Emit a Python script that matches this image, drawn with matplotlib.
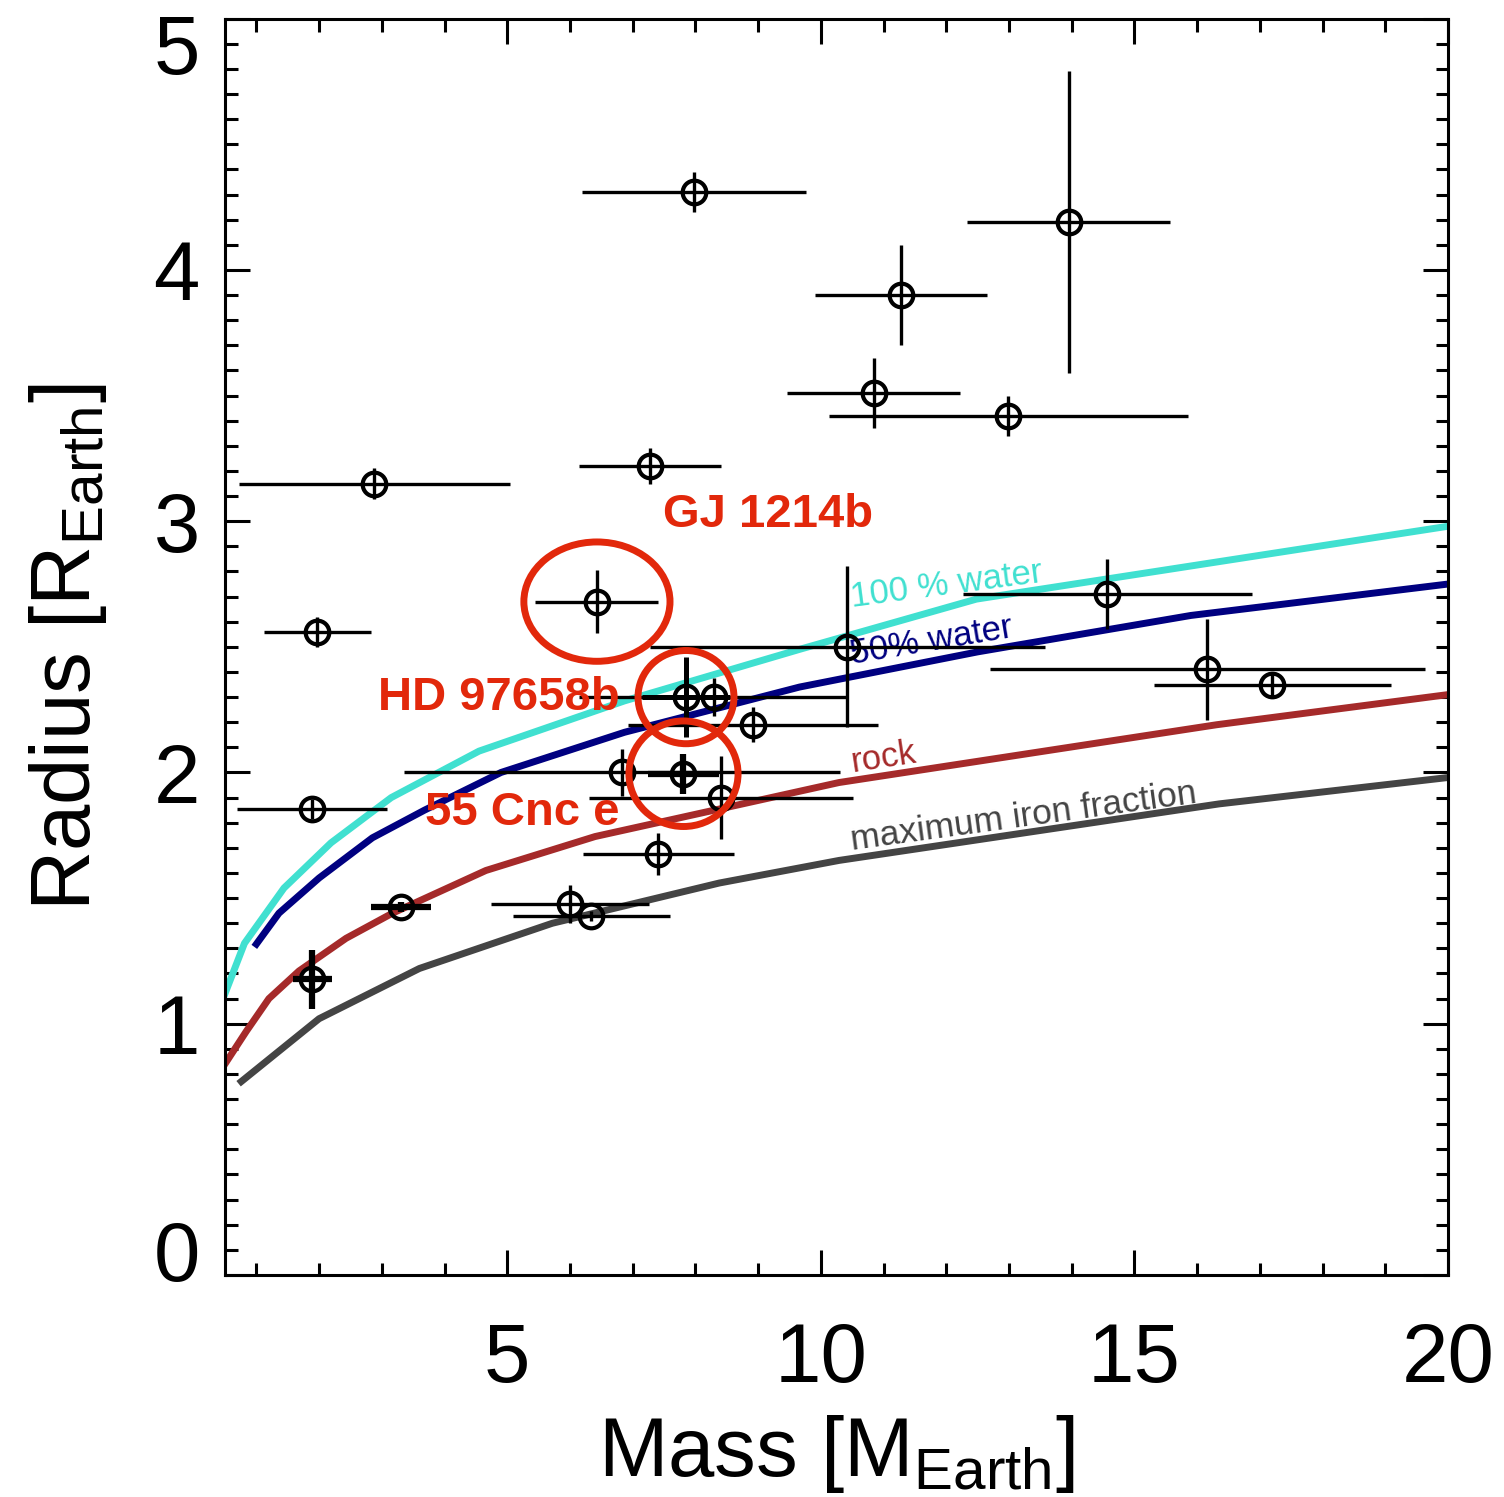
import matplotlib
matplotlib.use('Agg')
import matplotlib.pyplot as plt
from matplotlib.patches import Ellipse
from matplotlib.ticker import MultipleLocator
from matplotlib.transforms import ScaledTranslation

plt.rcParams['font.family'] = ['Liberation Sans', 'DejaVu Sans']
plt.rcParams['mathtext.fontset'] = 'custom'
plt.rcParams['mathtext.rm'] = 'Liberation Sans'
plt.rcParams['mathtext.it'] = 'Liberation Sans:italic'
plt.rcParams['mathtext.bf'] = 'Liberation Sans:bold'

# transiting planets with measured mass and radius (Earth units), 1-sigma errors
mass = [7.98, 13.95, 11.28, 10.84, 12.99, 7.28, 2.88, 1.97, 14.57, 10.42,
        8.29, 8.92, 6.83, 8.41, 7.41, 6.00, 6.34, 1.89, 16.16, 17.20]
radius = [4.31, 4.19, 3.90, 3.51, 3.42, 3.22, 3.15, 2.56, 2.71, 2.50,
          2.30, 2.19, 2.00, 1.90, 1.676, 1.476, 1.43, 1.856, 2.41, 2.35]
mass_err = [1.79, 1.62, 1.37, 1.38, 2.86, 1.13, 2.16, 0.85, 2.31, 3.15,
            2.15, 1.99, 3.47, 2.11, 1.21, 1.26, 1.25, 1.20, 3.47, 1.89]
radius_err = [0.08, 0.60, 0.20, 0.14, 0.08, 0.07, 0.06, 0.06, 0.14, 0.32,
              0.075, 0.07, 0.095, 0.165, 0.085, 0.075, 0.02, 0.04, 0.20, 0.05]

# small planets with tight constraints
bold_mass = [3.31, 1.89]
bold_radius = [1.465, 1.177]
bold_mass_err = [0.48, 0.31]
bold_radius_err = [0.02, 0.118]

# planets singled out in the text
named = ['GJ 1214b', 'HD 97658b', '55 Cnc e']
named_mass = [6.43, 7.85, 7.81]
named_radius = [2.68, 2.30, 1.995]
named_mass_err = [0.98, 0.70, 0.56]
named_radius_err = [0.125, 0.16, 0.08]

# mass-radius relations for fixed compositions
water100_mass = [0.5, 0.81, 1.44, 2.19, 3.15, 4.55, 6.87, 9.66, 12.48, 20.0]
water100_radius = [1.12, 1.32, 1.54, 1.72, 1.90, 2.085, 2.285, 2.49, 2.69, 2.98]
water50_mass = [1.0, 1.36, 2.0, 2.85, 3.68, 4.9, 6.87, 9.66, 12.5, 15.9, 20.0]
water50_radius = [1.317, 1.44, 1.58, 1.74, 1.85, 2.0, 2.16, 2.34, 2.48, 2.625, 2.75]
rock_mass = [0.5, 0.84, 1.2, 1.68, 2.43, 3.17, 4.66, 6.4, 10.29, 16.31, 20.0]
rock_radius = [0.84, 0.97, 1.10, 1.21, 1.34, 1.44, 1.61, 1.745, 1.96, 2.19, 2.31]
iron_mass = [0.76, 2.0, 3.6, 5.72, 8.38, 10.29, 16.35, 20.0]
iron_radius = [0.77, 1.02, 1.22, 1.40, 1.56, 1.65, 1.875, 1.98]

red = '#e2280b'

fig = plt.figure(figsize=(15.04, 14.97), dpi=100)
ax = fig.add_axes([0.1496, 0.1483, 0.8132, 0.8392])

ax.plot(water100_mass, water100_radius, color='#40e0d0', lw=5, zorder=2)
ax.plot(water50_mass, water50_radius, color='#000080', lw=5, zorder=2)
ax.plot(rock_mass, rock_radius, color='#a52a2a', lw=5, zorder=2)
ax.plot(iron_mass, iron_radius, color='#444444', lw=5, zorder=2)

ax.text(10.5, 2.66, '100 % water', color='#40e0d0', fontsize=25, rotation=7.5,
        rotation_mode='anchor', ha='left', va='baseline', zorder=2)
ax.text(10.5, 2.43, '50% water', color='#000080', fontsize=25, rotation=9.5,
        rotation_mode='anchor', ha='left', va='baseline', zorder=2)
ax.text(10.5, 2.0, 'rock', color='#a52a2a', fontsize=25, rotation=8.7,
        rotation_mode='anchor', ha='left', va='baseline', zorder=2)
ax.text(10.5, 1.69, 'maximum iron fraction', color='#444444', fontsize=25.5,
        rotation=7.8, rotation_mode='anchor', ha='left', va='baseline', zorder=2)

marker_style = dict(fmt='o', mfc='none', mec='k', ms=17, mew=3,
                    ecolor='k', capsize=0, zorder=3)
ax.errorbar(mass, radius, xerr=mass_err, yerr=radius_err, elinewidth=2.4,
            **marker_style)
ax.errorbar(bold_mass, bold_radius, xerr=bold_mass_err, yerr=bold_radius_err,
            elinewidth=4.5, **marker_style)
named_lw = [2.4, 3.6, 4.5]
for i in range(len(named)):
    ax.errorbar([named_mass[i]], [named_radius[i]], xerr=[named_mass_err[i]],
                yerr=[named_radius_err[i]], elinewidth=named_lw[i], **marker_style)

# red rings around the highlighted planets
ring_w = [2.33, 1.53, 1.74]
ring_h = [0.475, 0.371, 0.42]
for i in range(len(named)):
    ax.add_patch(Ellipse((named_mass[i], named_radius[i]), ring_w[i], ring_h[i],
                         fill=False, ec=red, lw=5, zorder=4))

ax.text(9.16, 3.025, named[0], color=red, fontsize=34, fontweight='bold',
        ha='center', va='center', zorder=4)
ax.text(6.79, 2.295, named[1], color=red, fontsize=34, fontweight='bold',
        ha='right', va='center', zorder=4)
ax.text(6.79, 1.84, named[2], color=red, fontsize=34, fontweight='bold',
        ha='right', va='center', zorder=4)

ax.set_xlim(0.5, 20)
ax.set_ylim(0, 5)
ax.set_xticks([5, 10, 15, 20], ['5', '10', '15', '20'])
ax.set_yticks([0, 1, 2, 3, 4, 5], ['0', '1', '2', '3', '4', '5'])
ax.xaxis.set_minor_locator(MultipleLocator(1))
ax.yaxis.set_minor_locator(MultipleLocator(0.1))
ax.tick_params(which='both', direction='in', top=True, right=True,
               width=2.2, color='k')
ax.tick_params(which='major', length=18)
ax.tick_params(which='minor', length=9)
ax.tick_params(axis='x', which='major', pad=33, labelsize=60)
ax.tick_params(axis='y', which='major', pad=18, labelsize=60)

# keep the end labels of the radius axis inside the frame
ylabs = ax.get_yticklabels()
ylabs[0].set_transform(ylabs[0].get_transform()
                       + ScaledTranslation(0, 0.24, fig.dpi_scale_trans))
ylabs[-1].set_transform(ylabs[-1].get_transform()
                        + ScaledTranslation(0, -0.25, fig.dpi_scale_trans))
for s in ax.spines.values():
    s.set_linewidth(2.2)

ax.set_xlabel(r'Mass [$\mathrm{M}_{\mathrm{Earth}}$]', fontsize=60)
ax.xaxis.set_label_coords(0.5, -0.11)
ax.set_ylabel(r'Radius [$\mathrm{R}_{\mathrm{Earth}}$]', fontsize=60)
ax.yaxis.set_label_coords(-0.095, 0.5)

fig.savefig('out.png', dpi=100)
